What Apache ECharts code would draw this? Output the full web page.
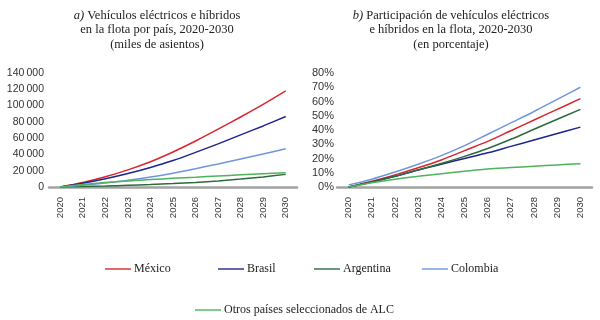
<!DOCTYPE html>
<html>
<head>
<meta charset="utf-8">
<script src="https://cdn.jsdelivr.net/npm/echarts@6/dist/echarts.min.js"></script>
<style>
	html,body{margin:0;padding:0;background:#fff;}
	#chart{width:600px;height:320px;}
</style>
</head>
<body>
<div id="chart"></div>
<script>
	// años
	let years = ["2020","2021","2022","2023","2024","2025","2026","2027","2028","2029","2030"];
	let names = ["México","Brasil","Argentina","Colombia","Otros países seleccionados de ALC"];
	let colors = ["#d8262d","#1d2690","#2d6b3b","#6f96dc","#4fb35c"];

	// a) miles de asientos
	let flotaMexico    = [0,5500,12500,21000,31000,43000,56500,71000,86000,101500,118000];
	let flotaBrasil    = [0,4500,10000,16500,24000,32500,42500,53000,64000,75000,86500];
	let flotaArgentina = [0,500,1200,2000,3000,4200,5600,7400,9700,12400,15500];
	let flotaColombia  = [0,2200,5000,8300,12300,17000,22500,28300,34300,40600,47100];
	let flotaOtros     = [0,3000,5500,7500,9200,10700,12100,13500,14900,16300,17600];

	// b) porcentaje
	let partMexico    = [0,4,8.5,13.5,19,25.5,32,39.5,47,54.5,62];
	let partBrasil    = [0,3.5,7.5,12,16,20,24,28.5,33,37.5,42];
	let partArgentina = [0,3.5,7.5,12,16.5,21.5,27,33.5,40.5,47.5,54.5];
	let partColombia  = [1.5,5.5,10.5,16,22,29,37,45,53,61.5,70];
	let partOtros     = [0,3,5.5,7.5,9.3,11,12.6,13.6,14.6,15.5,16.4];

	let flota = [flotaMexico,flotaBrasil,flotaArgentina,flotaColombia,flotaOtros];
	let part = [partMexico,partBrasil,partArgentina,partColombia,partOtros];

	let serif = "'Liberation Serif','DejaVu Serif',serif";
	let sans = "'Liberation Sans',Arial,sans-serif";

	let myEchart = echarts.init(document.getElementById("chart"));

	let xAxisBase = function(idx){
		return {
			type:"category",
			gridIndex:idx,
			data:years,
			boundaryGap:true,
			axisTick:{show:false},
			axisLine:{lineStyle:{color:"#a3a3a3",width:2.5}},
			axisLabel:{rotate:90,margin:10,fontFamily:sans,fontSize:9.5,color:"#333"}
		};
	};

	let series = [];
	names.forEach(function(n,i){
		series.push({
			name:n,type:"line",xAxisIndex:0,yAxisIndex:0,
			data:flota[i],smooth:0.3,symbol:"none",
			lineStyle:{width:1.5,color:colors[i]},itemStyle:{color:colors[i]}
		});
		series.push({
			name:n,type:"line",xAxisIndex:1,yAxisIndex:1,
			data:part[i],smooth:0.3,symbol:"none",
			lineStyle:{width:1.5,color:colors[i]},itemStyle:{color:colors[i]}
		});
	});

	// una leyenda por elemento, para ubicar cada uno
	let legendPos = [[105,263],[218,263],[314,263],[422,263],[195,304]];
	let legends = names.map(function(n,i){
		return {
			data:[n],
			left:legendPos[i][0],
			top:legendPos[i][1],
			icon:"path://M0,0 L26,0 L26,1.4 L0,1.4 Z",
			itemWidth:26,
			itemHeight:1.4,
			itemGap:0,
			padding:0,
			textStyle:{fontFamily:serif,fontSize:12,color:"#222",padding:[0,0,0,-2]}
		};
	});

	let opt = {
		animation:false,
		title:[
			{
				text:"{i|a)} Vehículos eléctricos e híbridos\nen la flota por país, 2020-2030\n(miles de asientos)",
				left:152,top:3,textAlign:"center",
				textStyle:{
					fontFamily:serif,fontSize:12.5,fontWeight:"normal",color:"#222",lineHeight:14.5,
					rich:{i:{fontFamily:serif,fontSize:12.5,fontStyle:"italic",color:"#222",lineHeight:14.5}}
				}
			},
			{
				text:"{i|b)} Participación de vehículos eléctricos\ne híbridos en la flota, 2020-2030\n(en porcentaje)",
				left:446,top:3,textAlign:"center",
				textStyle:{
					fontFamily:serif,fontSize:12.5,fontWeight:"normal",color:"#222",lineHeight:14.5,
					rich:{i:{fontFamily:serif,fontSize:12.5,fontStyle:"italic",color:"#222",lineHeight:14.5}}
				}
			}
		],
		legend:legends,
		grid:[
			{left:49,width:248,top:73,height:114},
			{left:337,width:255,top:73,height:114}
		],
		xAxis:[xAxisBase(0),xAxisBase(1)],
		yAxis:[
			{
				type:"value",gridIndex:0,min:0,max:140000,interval:20000,
				splitLine:{show:false},axisLine:{show:false},axisTick:{show:false},
				axisLabel:{margin:5,fontFamily:sans,fontSize:10.5,color:"#333",
					formatter:function(v){return v>=1000?Math.floor(v/1000)+"\u2009000":String(v);}}
			},
			{
				type:"value",gridIndex:1,min:0,max:80,interval:10,
				splitLine:{show:false},axisLine:{show:false},axisTick:{show:false},
				axisLabel:{margin:3,fontFamily:sans,fontSize:11,color:"#333",formatter:"{value}%"}
			}
		],
		series:series
	};
	myEchart.setOption(opt);
</script>
</body>
</html>
